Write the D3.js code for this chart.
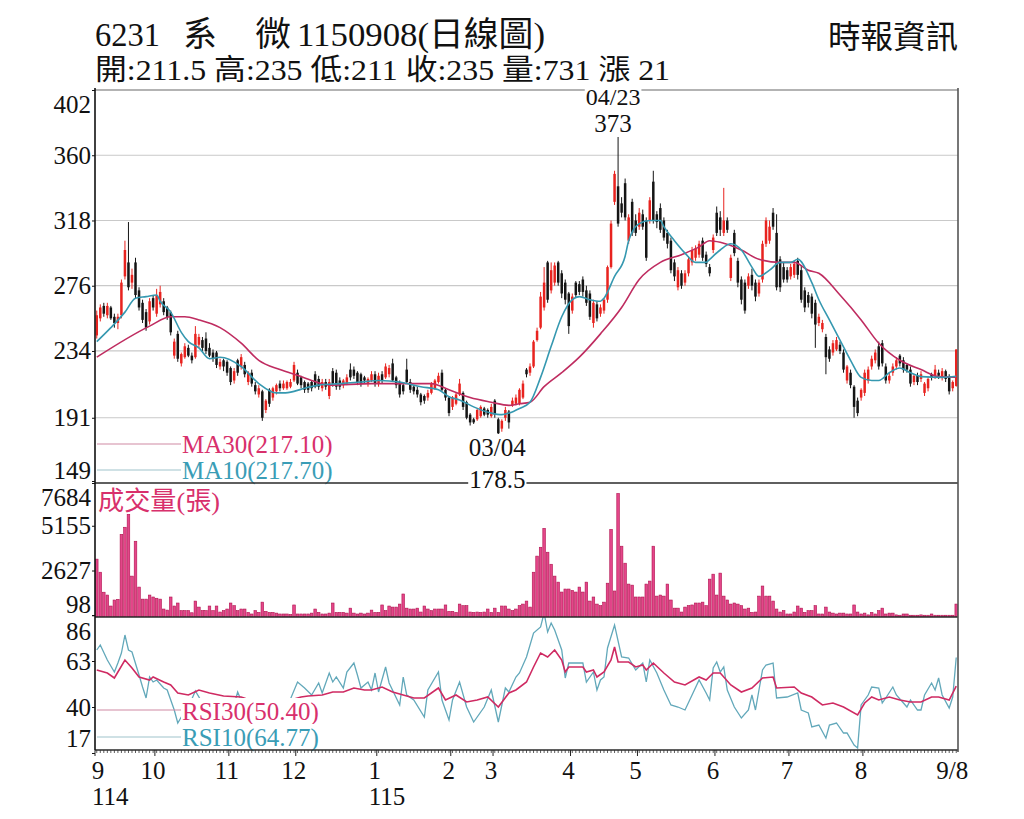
<!DOCTYPE html>
<html>
<head>
<meta charset="utf-8">
<script src="https://cdn.jsdelivr.net/npm/d3@7"></script>
<style>
  body { margin: 0; background: #fff; }
  svg text { font-family: "Liberation Serif", "Noto Sans CJK TC", serif; }
</style>
</head>
<body>
<div id="chart"></div>
<script>
// ---- data ----
var titleParts = ["6231", "系", "微", "1150908(日線圖)"];
var sourceLabel = "時報資訊";
var volumeLabel = "成交量(張)";
var peakDates = ["04/23", "03/04"];

var priceTicks = [149, 191, 234, 276, 318, 360, 402];
var volTicks = [98, 2627, 5155, 7684];
var rsiTicks = [17, 40, 63, 86];

var monthLabels = ["9", "10", "11", "12", "1", "2", "3", "4", "5", "6", "7", "8"];
var monthStarts = [0, 17, 38, 57, 80, 101, 113, 135, 154, 176, 197, 218];
var yearLabels = ["114", "115"];
var yearStarts = [0, 80];
var lastDayLabel = "9/8";

// daily candles, one line per month
var opens = [
  244,255,263,257,262,256,252,257,282,291,278,291,273,265,259,253,268,
  258,264,266,262,259,231,245,226,230,236,231,230,238,241,242,236,233,233,224,228,227,
  223,215,228,224,225,214,220,212,206,208,196,209,204,208,213,210,210,211,215,
  220,217,214,213,214,219,216,210,214,205,221,220,215,212,213,222,222,220,219,217,213,215,219,
  213,219,217,219,226,217,214,212,222,214,211,209,206,205,204,207,210,214,220,209,204,
  198,200,206,207,201,193,190,190,192,197,196,192,
  202,190,184,191,195,199,200,200,204,222,220,224,241,249,262,291,273,278,291,284,278,271,
  260,278,277,280,273,271,252,264,258,260,267,288,330,340,329,342,305,330,318,
  314,322,318,318,343,322,326,318,310,305,291,275,284,278,284,291,294,296,305,296,288,299,
  323,320,310,318,281,310,292,280,278,276,283,278,271,280,303,305,323,310,293,288,286,
  282,283,292,286,273,270,269,265,252,248,243,235,233,235,238,233,215,220,211,202,204,
  207,215,224,228,237,239,224,215,220,224,231,228,225,222,214,218,216,207,210,219,218,
  220,217,221,217,210,211.5
];
var highs = [
  260,264,265,265,263,258,258,280,305,317,287,294,275,267,261,268,270,
  274,276,268,263,260,242,247,233,239,238,233,250,245,243,246,239,235,234,229,229,228,
  224,223,229,232,227,221,222,214,212,209,203,210,211,213,215,215,215,216,227,
  222,218,215,214,215,221,218,216,216,216,223,222,217,216,219,226,224,221,220,218,217,221,221,
  220,221,226,225,229,218,215,214,229,216,212,211,207,206,209,214,216,220,222,210,205,
  205,207,216,208,202,194,191,197,199,198,197,200,
  203,191,190,198,196,204,206,210,215,223,226,241,249,272,288,292,291,291,292,286,280,272,
  271,279,279,282,276,273,267,266,264,268,289,318,350,373,333,345,322,332,322,
  326,325,320,333,350,324,329,320,312,307,293,288,286,286,295,301,302,305,307,298,290,309,
  327,324,339,320,296,312,294,282,280,284,287,280,280,305,320,318,326,322,295,291,288,
  290,292,294,289,275,272,271,267,258,254,245,237,241,243,240,235,225,222,212,204,210,
  222,224,231,235,240,241,226,220,226,230,232,230,226,224,219,220,221,214,217,220,225,
  222,223,222,219,215,235
];
var lows = [
  242,253,256,255,254,249,248,255,280,273,274,268,260,252,247,251,260,
  256,262,257,254,244,229,227,224,229,230,226,229,236,234,232,230,227,223,222,221,218,
  212,213,218,222,217,212,211,206,204,189,194,198,202,206,208,209,209,210,214,
  212,210,207,207,208,210,209,208,209,203,211,209,209,210,212,215,216,212,211,213,211,214,211,
  211,213,216,217,214,210,204,206,213,207,206,204,199,200,202,206,209,213,208,202,192,
  196,199,205,196,190,186,187,189,191,192,191,191,
  191,178.5,182,189,184,198,199,199,203,217,218,223,240,248,260,265,271,276,276,268,264,245,
  258,268,270,269,263,254,249,253,256,258,265,287,328,314,320,318,303,308,308,
  312,312,292,316,316,313,310,305,300,284,279,273,274,276,282,289,292,294,292,288,282,297,
  308,308,308,310,279,295,275,264,258,274,273,266,269,278,301,303,312,273,272,278,278,
  280,281,280,265,259,262,255,236,250,246,219,227,231,234,232,220,213,210,191,192,202,
  205,213,222,226,222,224,213,213,218,222,224,220,220,211,212,212,214,205,208,215,216,
  216,215,214,206,208,211
];
var closes = [
  257,262,258,263,255,252,256,278,299,275,283,270,262,254,249,266,262,
  270,272,259,256,246,240,229,232,237,231,228,245,243,236,234,231,229,225,227,224,220,
  214,221,220,230,219,220,213,208,210,191,202,200,210,212,210,213,214,214,225,
  213,212,209,209,210,211,211,214,211,214,213,211,211,215,217,217,218,214,213,215,216,219,213,
  218,215,224,223,215,212,206,208,214,209,208,206,201,202,207,213,215,218,209,204,194,
  204,206,213,198,191,188,188,196,198,193,193,198,
  193,181,189,196,188,202,204,209,213,219,224,240,247,269,278,267,286,289,278,271,267,250,
  269,270,272,272,265,256,265,255,262,267,288,316,348,316,323,320,320,310,310,
  323,314,294,331,318,317,312,307,303,286,282,286,276,284,293,299,300,303,294,290,284,307,
  310,312,318,312,294,297,278,267,260,282,276,269,278,303,318,314,314,275,275,280,280,
  288,290,283,267,262,265,258,251,256,252,230,229,239,241,234,222,224,212,198,194,209,
  220,222,229,233,224,226,215,218,224,228,226,222,222,213,218,214,219,213,216,217,222,
  218,221,216,208,214,235
];
var volumes = [
  3270,2530,1400,1240,620,960,1000,4670,5070,5800,2310,4280,1690,1010,1010,1240,1130,
  1060,1010,450,390,1130,620,790,360,360,360,240,900,560,360,360,620,360,620,280,360,450,
  790,640,360,450,450,260,170,360,260,840,320,260,260,220,170,170,170,140,680,
  170,170,170,170,220,450,260,170,170,220,790,260,260,260,220,500,220,170,220,170,220,390,260,
  260,680,360,620,560,560,730,1300,500,450,450,500,280,620,450,360,450,450,450,680,320,
  320,260,730,640,640,280,260,280,260,280,450,260,
  500,260,620,620,450,360,450,640,730,900,560,2530,3440,3940,5010,3660,2980,2310,1970,1410,1580,1580,
  1500,1410,1690,1410,1970,900,1130,730,640,840,1910,4950,1470,6980,4000,3040,1860,1800,1130,
  1130,1130,1860,2030,4000,1180,1240,1180,1860,960,500,500,280,560,640,680,790,790,840,640,2140,2420,
  1240,2480,1180,960,730,790,730,640,450,500,260,280,1180,1750,1180,1180,900,450,280,360,170,
  170,280,620,500,260,360,360,640,170,170,560,280,220,170,220,220,170,170,680,280,170,
  220,120,260,170,360,500,170,220,220,120,100,170,170,100,100,100,120,100,100,170,100,
  100,100,100,100,100,731
];

// moving averages and RSI, [day index, value]
var ma30 = [[0,230],[15,250],[21,256],[25,256],[29,254],[35,249],[41,239],[46,228],[52,222],[58,217.5],[61,215],[66,212],[78,213],[95,213],[100,209],[106,204],[112,201],[117,199],[120,200],[123,201],[127,211],[132,220],[137,230],[143,245],[149,262],[154,280],[160,291],[166,296],[171,301],[174,305],[177,304],[183,299],[188,293],[194,291],[198,291],[202,286],[205,284],[211,270],[217,254],[222,239],[228,228],[234,222],[239,217.5],[244,217.10]];
var ma10 = [[0,240],[4,249],[8,259],[11,268],[14,269],[17,270],[18,266],[21,259],[24,246],[26,240],[29,236],[32,229],[35,230],[41,224],[46,213],[51,207],[53,207],[56,208],[59,210],[63,212],[69,213],[75,214],[80,215],[86,214],[92,211],[97,209],[100,204.5],[103,202.5],[107,198],[112,194],[115,193],[117,194],[120,197],[123,201],[126,217],[129,237],[132,256],[135,267],[137,269],[140,267],[143,266],[144,268],[147,282],[150,295],[151,305],[154,316],[157,318],[160,318],[161,314],[164,305],[167,297],[170,291],[173,291],[174,293],[177,299],[180,303],[183,299],[186,288],[188,282],[191,286],[194,291],[197,291],[199,293],[203,278],[205,267],[208,254],[211,241],[214,228],[217,217],[220,215],[222,215],[225,220],[228,223],[231,220],[234,217.5],[240,217],[244,217.70]];
var rsi10 = [[0,68.5],[1,71],[3,63.5],[5,57.5],[6,62],[7,67],[8,76],[9,68.5],[10,67.5],[12,56],[13,50],[14,44.5],[15,55],[16,52.5],[17,53.5],[19,49.5],[20,48.5],[22,38.5],[23,32],[24,35],[26,40],[28,48],[30,42],[32,40],[34,37],[36,39],[38,35],[40,47.5],[42,39],[44,34],[46,35],[47,25],[49,34],[51,38],[53,40],[55,44],[57,52.5],[59,49.5],[61,46],[63,52],[64,47],[66,57],[67,52.5],[68,55],[70,49.5],[71,57.5],[73,62],[74,56],[75,49.5],[77,52.5],[78,48.5],[79,57],[80,47.5],[82,60],[83,52],[86,41],[87,55],[88,46],[90,43.5],[93,35],[94,48.5],[97,57.5],[98,43.5],[100,33.5],[101,43.5],[103,52.5],[105,40],[107,32.5],[110,40],[112,48.5],[114,32.5],[116,49.5],[117,47.5],[119,55],[120,57],[122,65],[124,77],[126,80],[127,87],[128,77.5],[129,82],[130,78.5],[132,68.5],[133,54.5],[134,62],[138,62],[139,52.5],[141,57.5],[142,48.5],[143,53.5],[144,55],[145,69.5],[147,81],[149,65],[151,64.5],[153,58.5],[155,62],[156,52.5],[157,63.5],[159,57],[161,48.5],[163,41],[165,40],[167,38.5],[169,46],[171,53.5],[173,47],[174,43.5],[175,59.5],[176,62.5],[177,57.5],[178,60],[179,48.5],[181,40],[183,34.5],[185,38.5],[186,46],[187,38.5],[189,58.5],[190,61],[192,62],[193,44.5],[196,45],[199,47],[200,38.5],[202,37],[203,30],[205,31],[207,24.5],[208,31],[210,32],[212,27],[213,27],[215,21],[216,19.5],[217,41],[219,46],[220,50],[222,49.5],[223,42],[224,44.5],[226,50],[227,46],[230,40],[231,43.5],[233,38.5],[234,38.5],[235,46],[237,52],[238,48.5],[239,54.5],[240,46],[242,39.5],[243,45],[244,64.77]];
var rsi30 = [[0,58.5],[3,57],[5,54.5],[8,63.5],[10,59.5],[12,55],[15,53.5],[16,55],[19,52.5],[21,51],[23,47],[26,46],[29,48.5],[32,47],[36,45.5],[41,45],[46,42],[50,42],[55,43.5],[58,45],[60,45.5],[64,46],[67,47.5],[70,47.5],[73,49.5],[76,48.5],[78,48.5],[81,50],[84,47.5],[87,46],[90,44.5],[93,44.5],[97,49.5],[99,43.5],[102,46],[105,42.5],[108,43.5],[111,45],[114,40],[117,47],[119,48.5],[122,52.5],[124,60],[126,67],[128,65],[130,68.5],[132,63.5],[133,57.5],[134,60],[138,60],[139,57.5],[141,58.5],[142,55],[144,57.5],[146,63.5],[147,70],[148,62.5],[151,62.5],[153,60],[155,61],[156,58.5],[158,62],[161,57],[164,52.5],[167,51],[171,55],[173,53.5],[175,57],[177,57],[180,51],[183,47.5],[186,49.5],[189,54.5],[192,55],[193,49.5],[198,50],[200,47],[203,45],[206,41],[209,42],[212,40],[216,36],[218,42],[220,45],[222,43.5],[225,45],[228,43.5],[231,42.5],[234,42.5],[237,45],[239,45],[242,43.5],[244,50.40]];

// ---- layout ----
var width = 1024, height = 819;
var left = 95, right = 958;
var pTop = 90, pBot = 483, vBot = 617, rBot = 750;
var upColor = "#e8231f", downColor = "#151515";
var ma30Color = "#bf2c60", ma10Color = "#3598b0";
var labelRed = "#d8306c", labelTeal = "#3a9db6";
var serif = "'Liberation Serif','Noto Sans CJK TC',serif";

var n = closes.length;

var svg = d3.select("#chart")
  .append("svg")
    .attr("width", width)
    .attr("height", height)
    .style("background", "#fff");

var x = d3.scaleBand().domain(d3.range(n)).range([left, right]);
var bw = x.bandwidth();
function cx(i) { return x(i) + bw / 2; }

var yP = d3.scaleLinear().domain([149, 402]).range([pBot, pTop]);
var yV = d3.scaleLinear().domain([0, 7684]).range([vBot, 481]);
var yR = d3.scaleLinear().domain([17, 86]).range([753, 615]);

// clip areas for the three panels
var defs = svg.append("defs");
[["clipP", pTop, pBot], ["clipV", pBot, vBot], ["clipR", vBot, rBot]].forEach(function (c) {
  defs.append("clipPath").attr("id", c[0])
    .append("rect").attr("x", left).attr("y", c[1]).attr("width", right - left).attr("height", c[2] - c[1]);
});

// gridlines in the price panel
svg.append("g")
  .selectAll("line")
  .data(priceTicks.slice(1, -1))
  .enter()
  .append("line")
    .attr("x1", left).attr("x2", right)
    .attr("y1", function (d) { return yP(d); })
    .attr("y2", function (d) { return yP(d); })
    .attr("stroke", "#c9c9c9").attr("stroke-width", 1.2);

// candles
var candles = svg.append("g").attr("clip-path", "url(#clipP)")
  .selectAll("g")
  .data(d3.range(n))
  .enter()
  .append("g");
candles.append("line")
  .attr("x1", cx).attr("x2", cx)
  .attr("y1", function (i) { return yP(highs[i]); })
  .attr("y2", function (i) { return yP(lows[i]); })
  .attr("stroke", function (i) { return closes[i] >= opens[i] ? upColor : downColor; })
  .attr("stroke-width", 1);
candles.append("rect")
  .attr("x", function (i) { return cx(i) - 1.25; })
  .attr("width", 2.5)
  .attr("y", function (i) { return yP(Math.max(opens[i], closes[i])); })
  .attr("height", function (i) { return Math.max(1, Math.abs(yP(opens[i]) - yP(closes[i]))); })
  .attr("fill", function (i) { return closes[i] >= opens[i] ? upColor : downColor; });

// moving average lines
var lineP = d3.line()
  .x(function (d) { return cx(d[0]); })
  .y(function (d) { return yP(d[1]); })
  .curve(d3.curveMonotoneX);
svg.append("path").datum(ma30).attr("clip-path", "url(#clipP)")
  .attr("d", lineP).attr("fill", "none").attr("stroke", ma30Color).attr("stroke-width", 1.6);
svg.append("path").datum(ma10).attr("clip-path", "url(#clipP)")
  .attr("d", lineP).attr("fill", "none").attr("stroke", ma10Color).attr("stroke-width", 1.6);

// volume bars
svg.append("g").attr("clip-path", "url(#clipV)")
  .selectAll("rect")
  .data(d3.range(n))
  .enter()
  .append("rect")
    .attr("x", function (i) { return cx(i) - 1.3; })
    .attr("width", 2.6)
    .attr("y", function (i) { return yV(volumes[i]); })
    .attr("height", function (i) { return yV(0) - yV(volumes[i]); })
    .attr("fill", "#e4468a")
    .attr("stroke", "#b0124e")
    .attr("stroke-width", 0.6);

// RSI lines
var lineR = d3.line()
  .x(function (d) { return cx(d[0]); })
  .y(function (d) { return yR(d[1]); });
svg.append("path").datum(rsi10).attr("clip-path", "url(#clipR)")
  .attr("d", lineR).attr("fill", "none").attr("stroke", "#62a8ba").attr("stroke-width", 1.3);
svg.append("path").datum(rsi30).attr("clip-path", "url(#clipR)")
  .attr("d", lineR).attr("fill", "none").attr("stroke", "#cf2a62").attr("stroke-width", 1.6);

// text with a white box behind it
function boxedText(tx, ty, str, color, size, anchor) {
  var g = svg.append("g");
  var t = g.append("text")
    .attr("x", tx).attr("y", ty)
    .attr("text-anchor", anchor || "start")
    .attr("font-size", size)
    .attr("fill", color)
    .text(str);
  var b = t.node().getBBox();
  g.insert("rect", "text")
    .attr("x", b.x - 1).attr("y", b.y).attr("width", b.width + 2).attr("height", b.height)
    .attr("fill", "#fff");
  return g;
}

// legends
function legend(y, lineColor, str, textColor, ty) {
  svg.append("line").attr("x1", 97).attr("x2", 181).attr("y1", y).attr("y2", y)
    .attr("stroke", lineColor).attr("stroke-width", 1.2);
  boxedText(182, ty, str, textColor, 25);
}
legend(444, "#cf8aa3", "MA30(" + ma30[ma30.length - 1][1].toFixed(2) + ")", labelRed, 453);
legend(470, "#9fc3cc", "MA10(" + ma10[ma10.length - 1][1].toFixed(2) + ")", labelTeal, 479);
legend(710, "#cf8aa3", "RSI30(" + rsi30[rsi30.length - 1][1].toFixed(2) + ")", labelRed, 720);
legend(737, "#9fc3cc", "RSI10(" + rsi10[rsi10.length - 1][1].toFixed(2) + ")", labelTeal, 746);

svg.append("text").attr("x", 98).attr("y", 510)
  .attr("font-size", 26).attr("fill", labelRed)
  .attr("textLength", 122).attr("lengthAdjust", "spacingAndGlyphs")
  .text(volumeLabel);

// frame
svg.append("line").attr("x1", left).attr("x2", right).attr("y1", pTop).attr("y2", pTop)
  .attr("stroke", "#9a9a9a").attr("stroke-width", 1.3);
[pBot, vBot, rBot].forEach(function (yy) {
  svg.append("line").attr("x1", left).attr("x2", right).attr("y1", yy).attr("y2", yy)
    .attr("stroke", "#2a2a2a").attr("stroke-width", 1.5);
});
svg.append("line").attr("x1", left).attr("x2", left).attr("y1", pTop - 2).attr("y2", rBot)
  .attr("stroke", "#111").attr("stroke-width", 1.6);
svg.append("line").attr("x1", right).attr("x2", right).attr("y1", pTop - 2).attr("y2", rBot + 2)
  .attr("stroke", "#555").attr("stroke-width", 1.6);

// high / low annotations
var hiIdx = d3.maxIndex(highs), loIdx = d3.minIndex(lows);
boxedText(cx(hiIdx) - 5, 105, peakDates[0], "#111", 24, "middle");
boxedText(cx(hiIdx) - 5, 132, String(highs[hiIdx]), "#111", 25, "middle");
boxedText(cx(loIdx) - 1, 456, peakDates[1], "#111", 25, "middle");
boxedText(cx(loIdx) - 1, 488, String(lows[loIdx]), "#111", 25, "middle");

// y axes
function yAxis(scale, ticks, lo, hi) {
  svg.append("g")
    .attr("transform", "translate(" + left + ",0)")
    .call(d3.axisLeft(scale).tickValues(ticks).tickSize(3).tickPadding(1).tickFormat(d3.format("d")))
    .call(function (g) { g.select(".domain").remove(); })
    .call(function (g) {
      g.selectAll(".tick line").attr("stroke", "#111");
      g.selectAll(".tick text")
        .attr("font-family", serif)
        .attr("font-size", 25)
        .attr("fill", "#111")
        .attr("y", function (d) { var v = scale(d); return Math.max(lo, Math.min(hi, v)) - v; });
    });
}
yAxis(yP, priceTicks, 104, 470);
yAxis(yV, volTicks, 497, 604);
yAxis(yR, rsiTicks, 631, 738);

// x axis: day ticks, month ticks and labels
svg.append("g")
  .selectAll("line")
  .data(d3.range(n))
  .enter()
  .append("line")
    .attr("x1", cx).attr("x2", cx)
    .attr("y1", rBot).attr("y2", rBot + 3)
    .attr("stroke", "#333").attr("stroke-width", 0.8);
svg.append("g")
  .selectAll("line")
  .data(monthStarts)
  .enter()
  .append("line")
    .attr("x1", function (i) { return x(i); }).attr("x2", function (i) { return x(i); })
    .attr("y1", rBot).attr("y2", rBot + 6)
    .attr("stroke", "#222").attr("stroke-width", 1);

svg.append("g")
  .selectAll("text")
  .data(monthLabels)
  .enter()
  .append("text")
    .attr("x", function (d, k) { return k === 0 ? x(0) + 3 : x(monthStarts[k]) - 2; })
    .attr("y", 779)
    .attr("text-anchor", "middle")
    .attr("font-size", 25)
    .attr("fill", "#111")
    .text(function (d) { return d; });
svg.append("text")
  .attr("x", cx(n - 1) - 4).attr("y", 779)
  .attr("text-anchor", "middle").attr("font-size", 25).attr("fill", "#111")
  .text(lastDayLabel);
svg.append("g")
  .selectAll("text")
  .data(yearLabels)
  .enter()
  .append("text")
    .attr("x", function (d, k) { return x(yearStarts[k]) - (k === 0 ? 3 : 8); })
    .attr("y", 805)
    .attr("font-size", 25)
    .attr("fill", "#111")
    .text(function (d) { return d; });

// header
var titleX = [[95, 65], [183, 34], [255, 36], [297, 248]];
titleParts.forEach(function (s, k) {
  svg.append("text")
    .attr("x", titleX[k][0]).attr("y", 46)
    .attr("font-size", 34).attr("fill", "#111")
    .attr("textLength", titleX[k][1]).attr("lengthAdjust", "spacingAndGlyphs")
    .text(s);
});
svg.append("text")
  .attr("x", 828).attr("y", 48)
  .attr("font-size", 32).attr("fill", "#111")
  .attr("textLength", 130).attr("lengthAdjust", "spacingAndGlyphs")
  .text(sourceLabel);

var last = n - 1;
var info = "開:" + opens[last] + " 高:" + highs[last] + " 低:" + lows[last] +
  " 收:" + closes[last] + " 量:" + volumes[last] + " 漲 " + (closes[last] - closes[last - 1]);
svg.append("text")
  .attr("x", 95).attr("y", 80)
  .attr("font-size", 29).attr("fill", "#111")
  .attr("textLength", 575).attr("lengthAdjust", "spacingAndGlyphs")
  .text(info);
</script>
</body>
</html>
